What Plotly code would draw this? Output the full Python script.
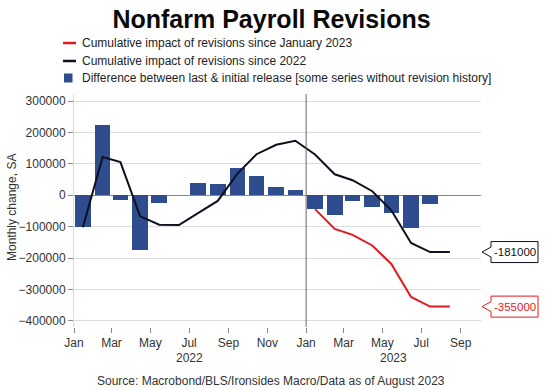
import plotly.graph_objects as go
import pandas as pd

# ---- data ----
months = [pd.Timestamp(y, m, 15) for y, m in
          [(2022, i) for i in range(1, 13)] + [(2023, i) for i in range(1, 9)]]

diff_last_initial = [-102000, 225000, -16000, -173000, -25000, None, 39000, 36000,
                     86000, 62000, 26000, 16000, -44000, -62000, -18000, -36000,
                     -58000, -104000, -29000, None]
cum_since_2022 = [-102000, 122000, 106000, -67000, -94000, -95000, -57000, -18000,
                  69000, 131000, 161000, 174000, 130000, 67000, 48000, 13000,
                  -48000, -152000, -181000, -181000]
cum_since_jan2023 = [None] * 12 + [-44000, -107000, -126000, -160000, -219000,
                                   -324000, -355000, -355000]

legend_labels = ["Cumulative impact of revisions since January 2023",
                 "Cumulative impact of revisions since 2022",
                 "Difference between last & initial release [some series without revision history]"]
tick_dates = pd.date_range("2022-01-01", "2023-09-01", freq="2MS")
tick_text = [d.strftime("%b") for d in tick_dates]
year_labels = ["2022", "2023"]
y_title = "Monthly change, SA"

x_start = pd.Timestamp("2022-01-01")
x_end = pd.Timestamp("2023-10-03")
y_range = [-420000, 323000]

RED = "#e5191b"
BLACK = "#0c1020"
BLUE = "#2f4c8e"
FONT = "Liberation Sans, Arial, sans-serif"

# body margin is removed via post_script, so pixel coords map 1:1
W, H = 547, 390
L, R, T, B = 74, 66, 94, 63
pw, ph = W - L - R, H - T - B


def px_to_paper_x(px):
    return (px - L) / pw


def px_to_paper_y(py):
    return (H - B - py) / ph


def px_to_data_dy(dpx):
    return dpx * (y_range[1] - y_range[0]) / ph


fig = go.Figure()
fig.add_trace(go.Bar(x=months, y=diff_last_initial, marker_color=BLUE,
                     marker_line_width=0, width=24.5 * 86400000,
                     name=legend_labels[2], showlegend=False))
fig.add_trace(go.Scatter(x=months, y=cum_since_2022, mode="lines",
                         line=dict(color=BLACK, width=2), name=legend_labels[1],
                         showlegend=False))
fig.add_trace(go.Scatter(x=months, y=cum_since_jan2023, mode="lines",
                         line=dict(color=RED, width=2), name=legend_labels[0],
                         showlegend=False))

shapes = []
annotations = []

# vertical line at start of 2023
shapes.append(dict(type="line", xref="x", yref="paper", x0="2023-01-01", x1="2023-01-01",
                   y0=0, y1=1, line=dict(color="#666666", width=1), layer="above"))

# manual legend
leg_rows = [43, 61, 78]
sym_x0, sym_x1 = 63, 76
for i, (lab, col) in enumerate(zip(legend_labels, [RED, BLACK, BLUE])):
    py = leg_rows[i]
    if i < 2:
        shapes.append(dict(type="line", xref="paper", yref="paper",
                           x0=px_to_paper_x(sym_x0), x1=px_to_paper_x(sym_x1),
                           y0=px_to_paper_y(py), y1=px_to_paper_y(py),
                           line=dict(color=col, width=2.5)))
    else:
        shapes.append(dict(type="rect", xref="paper", yref="paper",
                           x0=px_to_paper_x(64), x1=px_to_paper_x(72.5),
                           y0=px_to_paper_y(py + 4.5), y1=px_to_paper_y(py - 4.5),
                           fillcolor=col, line=dict(width=0)))
    annotations.append(dict(text=lab, xref="paper", yref="paper",
                            x=px_to_paper_x(80), y=px_to_paper_y(py),
                            xanchor="left", yanchor="middle", showarrow=False,
                            font=dict(size=12, color="#222222", family=FONT)))

# callouts for last values
for series, col, tcol in [(cum_since_2022, BLACK, "#111111"), (cum_since_jan2023, RED, RED)]:
    v = series[-1]
    tip = px_to_paper_x(L + pw + 1)
    bl = px_to_paper_x(491)
    br = px_to_paper_x(538)
    hh = px_to_data_dy(10.5)
    ah = px_to_data_dy(5)
    path = (f"M {tip},{v} L {bl},{v + ah} L {bl},{v + hh} L {br},{v + hh} "
            f"L {br},{v - hh} L {bl},{v - hh} L {bl},{v - ah} Z")
    shapes.append(dict(type="path", xref="paper", yref="y", path=path,
                       fillcolor="white", line=dict(color=col, width=1), layer="above"))
    annotations.append(dict(text=f"{v}", xref="paper", yref="y",
                            x=(bl + br) / 2, y=v, xanchor="center", yanchor="middle",
                            showarrow=False, font=dict(size=11.5, color=tcol, family=FONT)))

# year labels centered under the visible span of each year
y2022_mid = pd.Timestamp("2022-07-02")
y2023_mid = pd.Timestamp("2023-01-01") + (x_end - pd.Timestamp("2023-01-01")) / 2
for lab, xm in zip(year_labels, [y2022_mid, y2023_mid]):
    annotations.append(dict(text=lab, xref="x", yref="paper", x=xm,
                            y=px_to_paper_y(358), xanchor="center", yanchor="middle",
                            showarrow=False, font=dict(size=12, color="#333333", family=FONT)))

# y-axis title
annotations.append(dict(text=y_title, xref="paper", yref="paper",
                        x=px_to_paper_x(12), y=px_to_paper_y(207), textangle=-90,
                        xanchor="center", yanchor="middle", showarrow=False,
                        font=dict(size=12, color="#333333", family=FONT)))

# source
annotations.append(dict(text="Source: Macrobond/BLS/Ironsides Macro/Data as of August 2023",
                        xref="paper", yref="paper", x=px_to_paper_x(271),
                        y=px_to_paper_y(381), xanchor="center", yanchor="middle",
                        showarrow=False, font=dict(size=12, color="#333333", family=FONT)))

fig.update_layout(
    width=W, height=H,
    margin=dict(l=L, r=R, t=T, b=B, autoexpand=False),
    paper_bgcolor="white", plot_bgcolor="white",
    title=dict(text="<b>Nonfarm Payroll Revisions</b>", x=271.5 / W,
               xanchor="center", xref="container",
               y=1 - 19 / H, yanchor="middle",
               font=dict(size=25, color="#0a0a0a", family=FONT)),
    font=dict(family=FONT, size=12, color="#333333"),
    showlegend=False,
    bargap=0,
    shapes=shapes,
    annotations=annotations,
)
fig.update_xaxes(range=[x_start, x_end], tickvals=tick_dates, ticktext=tick_text,
                 ticks="outside", ticklen=5, tickcolor="#888888", showgrid=False,
                 showline=False, zeroline=False,
                 tickfont=dict(size=12, color="#333333", family=FONT))
fig.update_yaxes(range=y_range, tickvals=list(range(-400000, 300001, 100000)),
                 tickformat="d", ticks="outside", ticklen=5, tickcolor="#888888",
                 showgrid=True, gridcolor="#dddddd", gridwidth=1,
                 zeroline=True, zerolinecolor="#888888", zerolinewidth=1,
                 showline=True, linecolor="#dddddd", linewidth=1,
                 tickfont=dict(size=12, color="#333333", family=FONT))

fig.write_html("out.html", config={"displayModeBar": False},
               post_script="document.body.style.margin='0px';document.body.style.overflow='hidden';")
